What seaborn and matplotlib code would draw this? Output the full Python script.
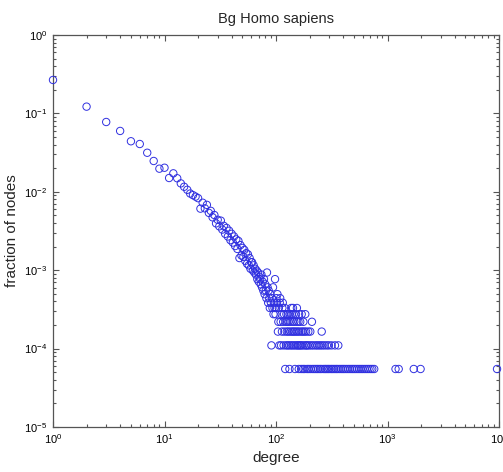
import numpy as np
import pandas as pd
import matplotlib
matplotlib.use("Agg")
import matplotlib.pyplot as plt
import seaborn as sns

# ---- data ----
N_NODES = 18200

head_degree = list(range(1, 101))
head_count = [4860, 2220, 1414, 1087, 803, 741, 573, 450, 359, 369,
              273, 313, 271, 233, 211, 193, 173, 165, 158, 151,
              111, 132, 112, 124, 98, 104, 86, 92, 72, 80,
              66, 78, 60, 67, 53, 63, 49, 58, 44, 53,
              41, 49, 37, 45, 34, 43, 26, 38, 28, 35,
              27, 33, 24, 30, 22, 29, 21, 26, 19, 23,
              23, 18, 21, 17, 19, 16, 18, 14, 17, 13,
              15, 14, 12, 16, 11, 13, 10, 14, 9, 12,
              10, 8, 17, 11, 7, 10, 8, 6, 9, 7,
              2, 8, 6, 11, 5, 7, 6, 14, 5, 6]

tail_deg_c1 = [121, 132, 148, 160, 168, 175, 181, 190, 197, 205, 214, 222, 230,
               238, 247, 255, 266, 275, 283, 292, 301, 312, 322, 333, 345, 356,
               370, 384, 398, 412, 428, 445, 462, 480, 497, 515, 535, 556, 578,
               600, 625, 650, 676, 703, 730, 760, 1180, 1260, 1720, 1980, 9600]
tail_deg_c2 = [107, 111, 117, 123, 127, 131, 136, 140, 145, 150, 155, 158, 163,
               166, 171, 177, 184, 188, 193, 200, 208, 216, 226, 234, 243, 252,
               262, 273, 286, 298, 315, 338, 362]
tail_deg_c3 = [104, 113, 119, 125, 129, 134, 139, 143, 147, 152, 157, 162, 169,
               174, 180, 186, 195, 203, 257]
tail_deg_c4 = [105, 110, 116, 122, 126, 130, 135, 141, 146, 153, 159, 165, 176, 210]
tail_deg_c5 = [112, 118, 124, 128, 133, 138, 144, 151, 161, 170, 183]
tail_deg_c6 = [106, 114, 120, 137, 142, 154]
tail_deg_hi = [101, 102, 103, 108, 109, 115]
tail_cnt_hi = [8, 7, 9, 7, 8, 7]

degrees = (head_degree + tail_deg_c1 + tail_deg_c2 + tail_deg_c3 + tail_deg_c4
           + tail_deg_c5 + tail_deg_c6 + tail_deg_hi)
counts = (head_count + [1] * len(tail_deg_c1) + [2] * len(tail_deg_c2)
          + [3] * len(tail_deg_c3) + [4] * len(tail_deg_c4)
          + [5] * len(tail_deg_c5) + [6] * len(tail_deg_c6) + tail_cnt_hi)

df = pd.DataFrame({"degree": degrees,
                   "fraction": np.array(counts, dtype=float) / N_NODES})

# ---- style ----
sns.set_style("ticks")
plt.rcParams["font.family"] = ["Liberation Sans", "DejaVu Sans"]
plt.rcParams["axes.edgecolor"] = "#555555"
plt.rcParams["xtick.color"] = "#555555"
plt.rcParams["ytick.color"] = "#555555"
plt.rcParams["xtick.labelcolor"] = "black"
plt.rcParams["ytick.labelcolor"] = "black"

W, H = 503, 472
fig = plt.figure(figsize=(W / 100, H / 100), dpi=100)
ax = fig.add_axes([53 / W, 1 - 427 / H, (499 - 53) / W, (427 - 35) / H])

sns.scatterplot(data=df, x="degree", y="fraction", ax=ax, marker="o",
                facecolor="none", edgecolor="#3030e0", linewidth=0.7, s=28,
                clip_on=False, zorder=3)

ax.set_xscale("log")
ax.set_yscale("log")
ax.set_xlim(1, 1e4)
ax.set_ylim(1e-5, 1)

ax.tick_params(which="both", direction="in", top=True, right=True,
               labelsize=8, width=0.8)
ax.tick_params(which="major", length=4, pad=4)
ax.tick_params(which="minor", length=2.2)
for s in ax.spines.values():
    s.set_linewidth(0.9)

ax.set_xlabel("degree", fontsize=11, labelpad=3)
ax.set_ylabel("fraction of nodes", fontsize=11, labelpad=4)
ax.set_title("Bg Homo sapiens", fontsize=10.5, pad=9)

fig.savefig("out.png", dpi=100)
